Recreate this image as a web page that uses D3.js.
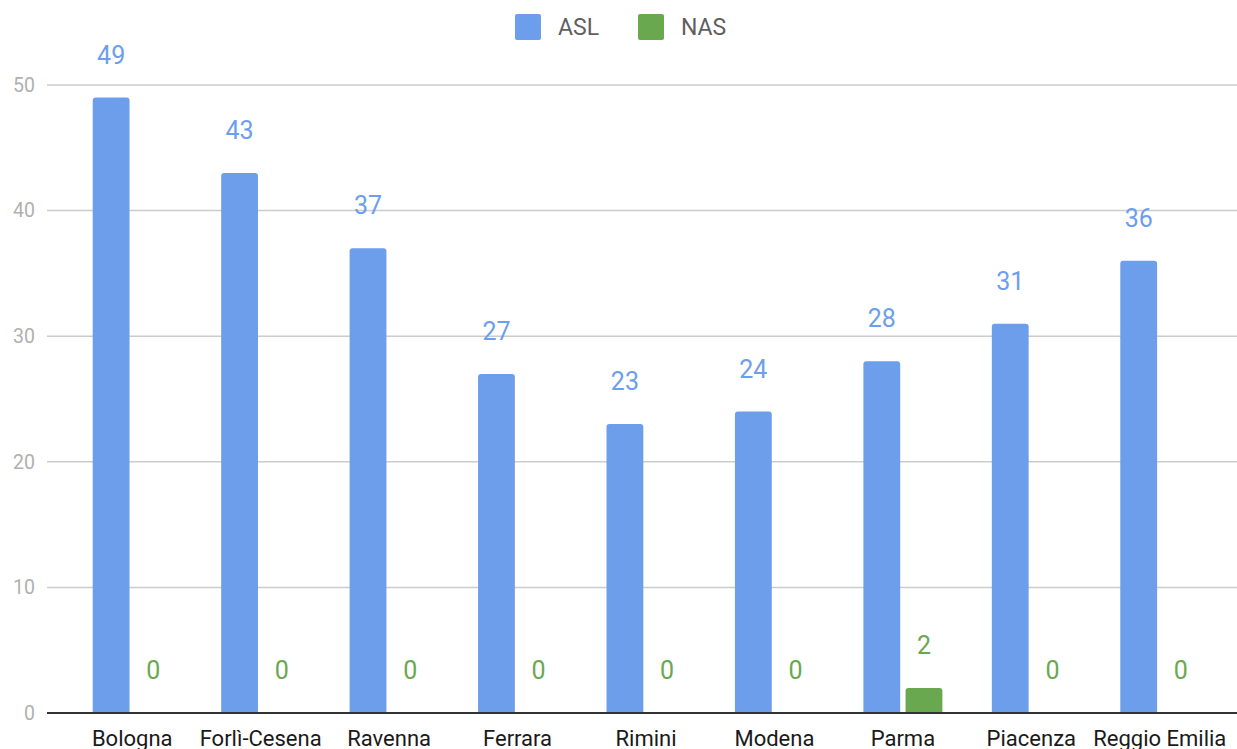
<!DOCTYPE html>
<html>
<head>
<meta charset="utf-8">
<script src="https://cdn.jsdelivr.net/npm/d3@7"></script>
<style>
  body { margin: 0; background: #fff; }
  svg { display: block; font-family: Roboto, "Noto Sans", sans-serif; }
</style>
</head>
<body>
<div id="chart"></div>
<script>
const CITIES = ['Bologna', 'Forlì-Cesena', 'Ravenna', 'Ferrara', 'Rimini', 'Modena', 'Parma', 'Piacenza', 'Reggio Emilia'];
const ASL = [49, 43, 37, 27, 23, 24, 28, 31, 36];
const NAS = [0, 0, 0, 0, 0, 0, 2, 0, 0];
const SERIES = ['ASL', 'NAS'];
const Y_TICKS = [0, 10, 20, 30, 40, 50];

const COLORS = { ASL: '#6d9eeb', NAS: '#6aa84f' };

const WIDTH = 1237, HEIGHT = 749;

const svg = d3.select('#chart').append('svg')
  .attr('width', WIDTH)
  .attr('height', HEIGHT);

const rows = CITIES.map((c, i) => ({ city: c, ASL: ASL[i], NAS: NAS[i] }));

const x0 = d3.scaleBand().domain(CITIES).range([68, 1224]).padding(0);
const x1 = d3.scaleBand().domain(SERIES).range([-39.5, 39.5]).paddingInner(0.127);
const y = d3.scaleLinear().domain([0, 50]).range([713, 85]);

// gridlines + y labels
const grid = svg.append('g');
grid.selectAll('line')
  .data(Y_TICKS.filter(d => d > 0))
  .enter().append('line')
  .attr('x1', 47).attr('x2', WIDTH)
  .attr('y1', d => y(d)).attr('y2', d => y(d))
  .attr('stroke', '#cccccc').attr('stroke-width', 1.5);

grid.selectAll('text')
  .data(Y_TICKS)
  .enter().append('text')
  .attr('x', 35)
  .attr('y', d => y(d))
  .attr('dy', '0.35em')
  .attr('text-anchor', 'end')
  .attr('font-size', '19.5px')
  .attr('fill', '#b0b0b0')
  .text(d => d);

// rounded-top bar path
function topRounded(x, yTop, w, h, r) {
  if (h <= 0) return '';
  r = Math.min(r, h, w / 2);
  return `M${x},${yTop + h} V${yTop + r} Q${x},${yTop} ${x + r},${yTop} H${x + w - r} Q${x + w},${yTop} ${x + w},${yTop + r} V${yTop + h} Z`;
}

const groups = svg.append('g').selectAll('g')
  .data(rows)
  .enter().append('g')
  .attr('transform', d => `translate(${x0(d.city) + x0.bandwidth() / 2},0)`);

groups.selectAll('path')
  .data(d => SERIES.map(k => ({ key: k, value: d[k] })))
  .enter().append('path')
  .attr('d', d => topRounded(x1(d.key), y(d.value), x1.bandwidth(), y(0) - y(d.value), 3))
  .attr('fill', d => COLORS[d.key]);

groups.selectAll('text')
  .data(d => SERIES.map(k => ({ key: k, value: d[k] })))
  .enter().append('text')
  .attr('x', d => x1(d.key) + x1.bandwidth() / 2)
  .attr('y', d => y(d.value) - 34)
  .attr('text-anchor', 'middle')
  .attr('font-size', '25px')
  .attr('fill', d => COLORS[d.key])
  .text(d => d.value);

// baseline
svg.append('line')
  .attr('x1', 47).attr('x2', WIDTH)
  .attr('y1', y(0)).attr('y2', y(0))
  .attr('stroke', '#333').attr('stroke-width', 2);

// x labels
svg.append('g').selectAll('text')
  .data(CITIES)
  .enter().append('text')
  .attr('x', d => x0(d) + x0.bandwidth() / 2)
  .attr('y', 746)
  .attr('text-anchor', 'middle')
  .attr('font-size', '22px')
  .attr('fill', '#1a1a1a')
  .text(d => d);

// legend
const legendX = { ASL: 515, NAS: 638 };
const legend = svg.append('g').selectAll('g')
  .data(SERIES)
  .enter().append('g')
  .attr('transform', d => `translate(${legendX[d]},14)`);
legend.append('rect')
  .attr('width', 26).attr('height', 26).attr('rx', 2)
  .attr('fill', d => COLORS[d]);
legend.append('text')
  .attr('x', 43).attr('y', 13).attr('dy', '0.36em')
  .attr('font-size', '23px')
  .attr('fill', '#5f5f5f')
  .text(d => d);
</script>
</body>
</html>
